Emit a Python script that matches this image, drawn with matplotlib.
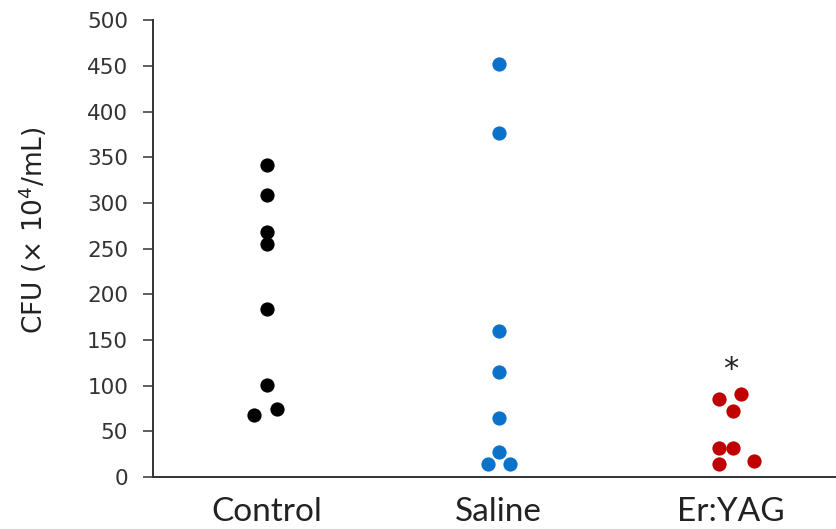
import matplotlib
matplotlib.use("Agg")
import matplotlib.pyplot as plt

# Group names and CFU values (x 10^4 /mL)
groups = ["Control", "Saline", "Er:YAG"]
control = [342, 309, 268, 255, 184, 101, 75, 68]
saline = [452, 377, 160, 115, 65, 27, 14, 14]
eryag = [91, 85, 72, 32, 32, 18, 14]

# small horizontal spread so overlapping dots stay visible
control_spread = [0, 0, 0, 0, 0, 0, 0.045, -0.055]
saline_spread = [0, 0, 0, 0, 0, 0, -0.045, 0.05]
eryag_spread = [0.047, -0.047, 0.013, -0.047, 0.013, 0.1, -0.047]

colors = ["#000000", "#0A72C8", "#C00000"]
star_value = 118

plt.rcParams["font.family"] = ["DejaVu Sans"]

fig = plt.figure(figsize=(8.37, 5.29), dpi=100)
ax = fig.add_axes([0.183, 0.098, 0.817, 0.864])

for i, (vals, spread) in enumerate([(control, control_spread),
                                    (saline, saline_spread),
                                    (eryag, eryag_spread)]):
    xs = [i + d for d in spread]
    ax.scatter(xs, vals, s=105, color=colors[i], zorder=3, linewidths=0)

ax.text(2, star_value, "*", ha="center", va="center", fontsize=22, color="#222222")

ax.set_xlim(-0.49, 2.46)
ax.set_ylim(0, 500)
ax.set_yticks(range(0, 501, 50))
ax.set_xticks(range(len(groups)))
ax.set_xticklabels(groups, fontfamily="Lato", fontsize=24, color="#222222")
ax.tick_params(axis="x", length=0, pad=14)
ax.tick_params(axis="y", direction="out", length=7, width=1.1, labelsize=15.5,
               colors="#333333", pad=11)
ax.set_ylabel("CFU (× 10$^4$/mL)", fontsize=19, color="#222222")
ax.yaxis.set_label_coords(-0.153, 0.54)

for side in ["top", "right"]:
    ax.spines[side].set_visible(False)
for side in ["left", "bottom"]:
    ax.spines[side].set_linewidth(1.4)
    ax.spines[side].set_color("#333333")

fig.savefig("out.png", dpi=100)
